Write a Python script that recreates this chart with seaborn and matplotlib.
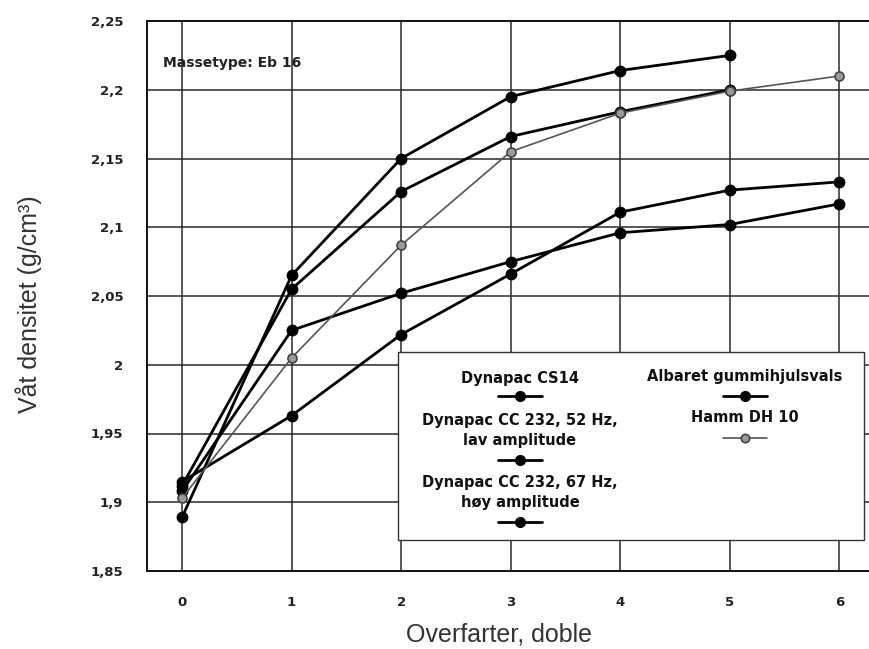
import numpy as np
import pandas as pd
import seaborn as sns
import matplotlib.pyplot as plt
from matplotlib.lines import Line2D
from matplotlib.patches import Rectangle

# Passes (double) and wet density per roller
passes = [0, 1, 2, 3, 4, 5, 6]
cs14 = [1.889, 2.065, 2.150, 2.195, 2.214, 2.225]
cc232_52 = [1.912, 2.055, 2.126, 2.166, 2.184, 2.200]
cc232_67 = [1.908, 2.025, 2.052, 2.075, 2.096, 2.102, 2.117]
albaret = [1.915, 1.963, 2.022, 2.066, 2.111, 2.127, 2.133]
hamm = [1.903, 2.005, 2.087, 2.155, 2.183, 2.199, 2.210]

series_names = [
    "Dynapac CS14",
    "Dynapac CC 232, 52 Hz,\nlav amplitude",
    "Dynapac CC 232, 67 Hz,\nhøy amplitude",
    "Albaret gummihjulsvals",
    "Hamm DH 10",
]
series_values = [cs14, cc232_52, cc232_67, albaret, hamm]

y_ticks = [1.85, 1.9, 1.95, 2.0, 2.05, 2.1, 2.15, 2.2, 2.25]
y_tick_labels = ["1,85", "1,9", "1,95", "2", "2,05", "2,1", "2,15", "2,2", "2,25"]
x_ticks = passes

sns.set_theme(style="white")
plt.rcParams["font.family"] = ["Liberation Sans", "DejaVu Sans"]

W, H = 870, 649
fig = plt.figure(figsize=(W / 100, H / 100), dpi=100)
ax = fig.add_axes([147 / W, 1 - 571 / H, (W - 147) / W, (571 - 21) / H])

styles = {
    "Hamm DH 10": dict(color="#555555", lw=1.2, marker="o", ms=6.5,
                       mfc="#9a9a9a", mec="#444444", mew=1.2),
}
default_style = dict(color="black", lw=2.0, marker="o", ms=7.5,
                     mfc="black", mec="black", mew=1.0)

for name, vals in zip(series_names, series_values):
    st = styles.get(name, default_style)
    df = pd.DataFrame({"x": passes[:len(vals)], "y": vals})
    sns.lineplot(data=df, x="x", y="y", ax=ax, color=st["color"],
                 linewidth=st["lw"], marker=st["marker"], markersize=st["ms"],
                 markerfacecolor=st["mfc"], markeredgecolor=st["mec"],
                 markeredgewidth=st["mew"], zorder=3)

bold_font = dict(family=["DejaVu Sans"], fontweight="bold")

ax.set_xlim(-0.32, 6.28)
ax.set_ylim(1.85, 2.25)
ax.set_xticks(x_ticks)
ax.set_xticklabels([str(v) for v in x_ticks], fontsize=9.5, **bold_font)
ax.set_yticks(y_ticks)
ax.set_yticklabels(y_tick_labels, fontsize=9.5, **bold_font)
ax.tick_params(axis="both", length=0, colors="#222222")
ax.tick_params(axis="y", pad=17)
ax.tick_params(axis="x", pad=18)
ax.grid(True, color="#2a2a2a", linewidth=1.1)
ax.set_axisbelow(True)
for side in ["left", "bottom", "top"]:
    ax.spines[side].set_visible(True)
    ax.spines[side].set_color("#111111")
    ax.spines[side].set_linewidth(1.4)
ax.spines["right"].set_visible(False)

ax.set_xlabel("Overfarter, doble", fontsize=18, color="#333333",
              labelpad=10, x=0.487)
ax.set_ylabel("Våt densitet (g/cm³)", fontsize=18, color="#333333",
              labelpad=35, y=0.485)

ax.text(163 / W, 1 - 63 / H, "Massetype: Eb 16", transform=fig.transFigure,
        fontsize=10, ha="left", va="center", color="#222222", **bold_font)

# Legend box with each label above its line sample
def fx(px):
    return px / W

def fy(py):
    return 1 - py / H

box = Rectangle((fx(398), fy(540)), fx(864) - fx(398), fy(352) - fy(540),
                transform=fig.transFigure, facecolor="white",
                edgecolor="#333333", linewidth=1.0, zorder=5)
fig.add_artist(box)

legend_items = [
    (520, [378], 396, series_names[0]),
    (520, [420, 440], 460, series_names[1]),
    (520, [483, 503], 522, series_names[2]),
    (745, [377], 396, series_names[3]),
    (745, [418], 438, series_names[4]),
]
for cx, text_ys, hy, name in legend_items:
    lines = name.split("\n")
    for ty, line in zip(text_ys, lines):
        fig.text(fx(cx), fy(ty), line, fontsize=10.5, ha="center", va="center",
                 color="#111111", zorder=6, **bold_font)
    st = styles.get(name, default_style)
    fig.add_artist(Line2D([fx(cx - 22), fx(cx + 22)], [fy(hy), fy(hy)],
                          transform=fig.transFigure, color=st["color"],
                          lw=st["lw"], zorder=6))
    fig.add_artist(Line2D([fx(cx)], [fy(hy)], transform=fig.transFigure,
                          marker=st["marker"], ms=st["ms"] - 0.5,
                          mfc=st["mfc"], mec=st["mec"], mew=st["mew"],
                          linestyle="none", zorder=7))

fig.savefig("out.png", dpi=100)
